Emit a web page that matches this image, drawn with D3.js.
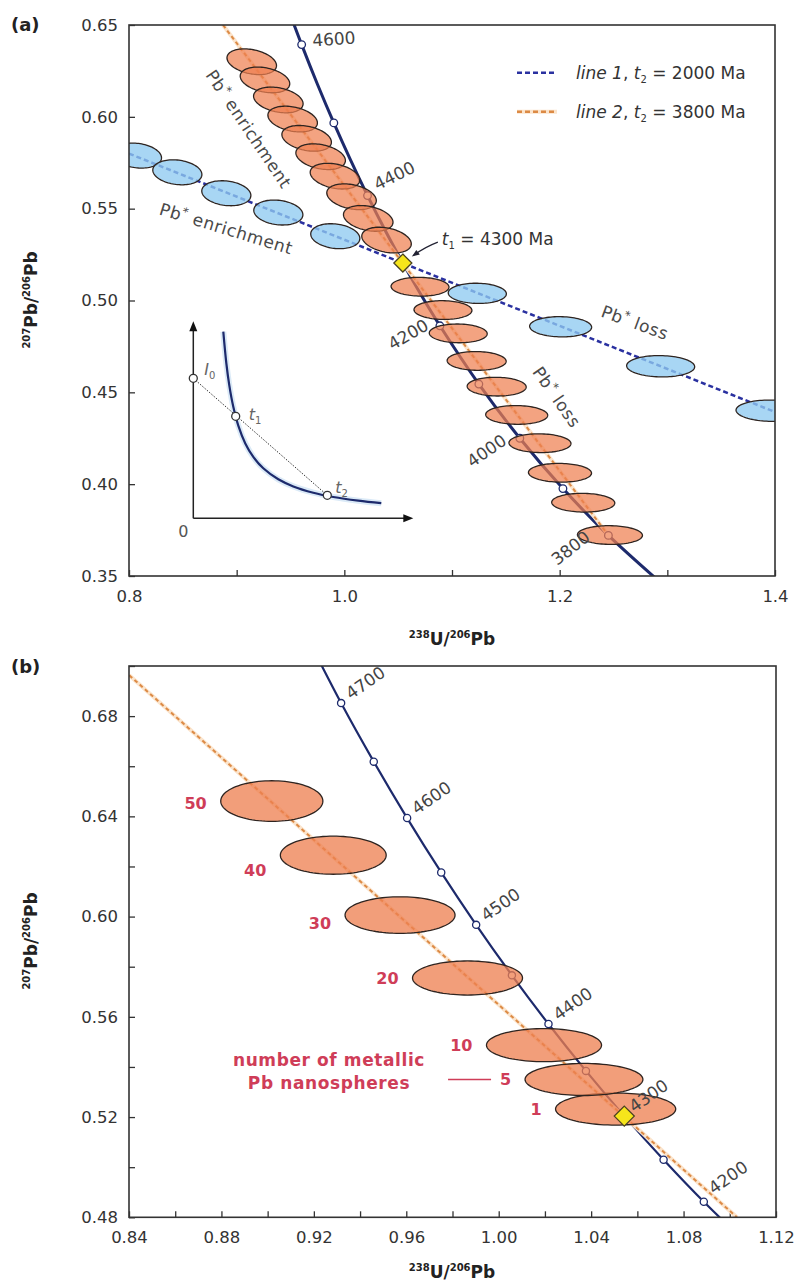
<!DOCTYPE html>
<html><head><meta charset="utf-8">
<script src="https://cdn.jsdelivr.net/npm/d3@7"></script>
<style>
body{margin:0;background:#fff;}
svg{display:block;font-family:"DejaVu Sans",sans-serif;}
</style></head><body>
<svg id="fig" width="794" height="1285"></svg>
<script>
// ---------- Concordia (Tera-Wasserburg), ages in Ma ----------
const concAge = [3700,3800,3900,4000,4100,4200,4250,4300,4350,4400,4450,4500,4550,4600,4650,4700,4800];
const concU   = [1.28984,1.24526,1.20304,1.16298,1.12494,1.08876,1.07135,1.05434,1.03775,1.02154,1.00571,0.99024,0.97512,0.96036,0.94592,0.93180,0.90449];
const concPb  = [0.34840,0.37210,0.39759,0.42501,0.45450,0.48623,0.50299,0.52038,0.53842,0.55714,0.57655,0.59670,0.61762,0.63932,0.66183,0.68520,0.73464];

// age marks on the concordia
const markAgesA  = [3800,3900,4000,4100,4200,4400,4500,4600];
const labelAgesA = [4600,4400,4200,4000,3800];
const markAgesB  = [4200,4250,4350,4400,4450,4500,4550,4600,4650,4700];
const labelAgesB = [4200,4300,4400,4500,4600,4700];
const t1Age = 4300;

// ---------- Discordia lines (end points) ----------
const line1AU  = [0.80, 1.40];      const line1APb = [0.5800, 0.4393];   // t2 = 2000 Ma
const line2AU  = [0.8873, 1.2453];  const line2APb = [0.6500, 0.3721];   // t2 = 3800 Ma
const line2BU  = [0.8401, 1.1031];  const line2BPb = [0.6963, 0.4800];

// ---------- Panel (a) analyses along line 1 ----------
const blueU   = [0.8074,0.8449,0.8904,0.9387,0.9916,1.1235,1.2009,1.2938,1.3963];
const bluePb  = [0.5789,0.5698,0.5584,0.5479,0.5350,0.5039,0.4857,0.4642,0.4400];
const blueSU  = [0.0228,0.0228,0.0228,0.0228,0.0228,0.0270,0.0288,0.0316,0.0325];
const blueSPb = [0.0068,0.0068,0.0068,0.0068,0.0068,0.0055,0.0055,0.0058,0.0058];
const blueRho = [-0.18,-0.18,-0.18,-0.18,-0.18,-0.05,-0.05,-0.05,-0.05];

// ---------- Panel (a) analyses along line 2 ----------
const orangeU   = [0.9140,0.9263,0.9387,0.9520,0.9650,0.9780,0.9913,1.0067,1.0222,1.0392,
                   1.0703,1.0916,1.1058,1.1229,1.1415,1.1601,1.1817,1.2003,1.2219,1.2467];
const orangePb  = [0.6300,0.6201,0.6092,0.5988,0.5883,0.5783,0.5677,0.5565,0.5447,0.5329,
                   0.5075,0.4948,0.4821,0.4671,0.4531,0.4377,0.4223,0.4062,0.3899,0.3723];
const orangeSU  = [0.0230,0.0230,0.0230,0.0230,0.0230,0.0230,0.0230,0.0230,0.0230,0.0230,
                   0.0269,0.0269,0.0269,0.0274,0.0274,0.0288,0.0288,0.0293,0.0293,0.0302];
const orangeSPb = [0.0070,0.0070,0.0070,0.0070,0.0070,0.0070,0.0070,0.0070,0.0070,0.0070,
                   0.0051,0.0051,0.0051,0.0051,0.0051,0.0051,0.0051,0.0051,0.0051,0.0051];
const orangeRho = [-0.30,-0.30,-0.30,-0.30,-0.30,-0.30,-0.30,-0.30,-0.30,-0.30,
                   -0.04,-0.04,-0.04,-0.04,-0.04,-0.04,-0.04,-0.04,-0.04,-0.04];

// ---------- Panel (b) metallic Pb nanospheres ----------
const nanoCount = [1,5,10,20,30,40,50];
const nanoU   = [1.0506,1.0369,1.0196,0.9865,0.9573,0.9284,0.9018];
const nanoPb  = [0.5232,0.5350,0.5487,0.5755,0.6006,0.6245,0.6461];
const nanoSU  = [0.0260,0.0255,0.0249,0.0238,0.0238,0.0229,0.0221];
const nanoSPb = [0.0064,0.0064,0.0066,0.0068,0.0073,0.0076,0.0081];

// ---------- Tick values ----------
const xTicksA = [0.8,0.9,1.0,1.1,1.2,1.3,1.4];
const yTicksA = [0.35,0.40,0.45,0.50,0.55,0.60,0.65];
const xTicksB = [0.84,0.86,0.88,0.90,0.92,0.94,0.96,0.98,1.00,1.02,1.04,1.06,1.08,1.10,1.12];
const yTicksB = [0.48,0.50,0.52,0.54,0.56,0.58,0.60,0.62,0.64,0.66,0.68,0.70];

// ---------- Inset sketch (schematic units) ----------
const sketchX = [30,33,36,40,45,52,60,70,85,100,120,140,165,188];
const sketchY = [186.6,155.3,132.9,111.5,92.7,74.9,61.4,50.0,39.0,31.9,25.6,21.3,17.6,15.1];
const sketchI0 = [0,140], sketchT1 = [42.4,102], sketchT2 = [134,23];

// =====================================================================
const svg = d3.select("#fig");
const defs = svg.append("defs");
const conc = concAge.map((a,i)=>({age:a,u:concU[i],pb:concPb[i]})).sort((p,q)=>q.u-p.u);
const concAt = a => { const i = concAge.indexOf(a); return [concU[i], concPb[i]]; };

const NAVY = "#1d2a6c", BLUE_DASH = "#2a31a0", ORANGE_DASH = "#dc8a45", HALO = "#fbe4cc";
const ORANGE_FILL = "#ee8050", BLUE_FILL = "#8fcaf1", EDGE = "#2e2420", RED = "#cf3d58";

function rich(g, x, y, parts){
  const t = g.append("text").attr("x",x).attr("y",y);
  let shift = 0;
  parts.forEach(p=>{
    const s = t.append("tspan").text(p.t);
    const target = p.sub ? p.sub : (p.sup ? -p.sup : 0);
    if (target !== shift){ s.attr("dy", target - shift); shift = target; }
    if (p.size) s.attr("font-size", p.size);
    if (p.italic) s.attr("font-style","italic");
    if (p.bold) s.attr("font-weight","bold");
  });
  return t;
}

function ellipsePath(x, y, cx, cy, sx, sy, rho){
  const r = Math.sqrt(1 - rho*rho);
  const pts = d3.range(0, 96).map(i=>{
    const a = i/96*2*Math.PI;
    return [x(cx + sx*Math.cos(a)), y(cy + sy*(rho*Math.cos(a) + r*Math.sin(a)))];
  });
  return d3.line()(pts) + "Z";
}

function panel(box, xDom, yDom, xt, yt, fx, fy, id){
  const x = d3.scaleLinear(xDom, [box.x0, box.x1]);
  const y = d3.scaleLinear(yDom, [box.y1, box.y0]);
  defs.append("clipPath").attr("id",id).append("rect")
    .attr("x",box.x0).attr("y",box.y0).attr("width",box.x1-box.x0).attr("height",box.y1-box.y0);
  const g = svg.append("g");
  const ax = g.append("g").attr("transform",`translate(0,${box.y1})`)
    .call(d3.axisBottom(x).tickValues(xt).tickFormat(fx).tickSizeInner(-6).tickSizeOuter(0).tickPadding(14));
  const ay = g.append("g").attr("transform",`translate(${box.x0},0)`)
    .call(d3.axisLeft(y).tickValues(yt).tickFormat(fy).tickSizeInner(-6).tickSizeOuter(0).tickPadding(11));
  [ax, ay].forEach(a=>{
    a.select(".domain").remove();
    a.selectAll("text").attr("font-size",16.5).attr("fill","#333").attr("font-family","DejaVu Sans");
    a.selectAll("line").attr("stroke","#333").attr("stroke-width",1.3);
  });
  const plot = g.append("g").attr("clip-path",`url(#${id})`);
  return {x, y, g, plot, box};
}

function drawFrame(P){
  P.g.append("rect").attr("x",P.box.x0).attr("y",P.box.y0)
    .attr("width",P.box.x1-P.box.x0).attr("height",P.box.y1-P.box.y0)
    .attr("fill","none").attr("stroke","#333").attr("stroke-width",1.6);
}

function concordia(P, w){
  P.plot.append("path").datum(conc)
    .attr("d", d3.line().x(d=>P.x(d.u)).y(d=>P.y(d.pb)).curve(d3.curveCatmullRom))
    .attr("fill","none").attr("stroke",NAVY).attr("stroke-width",w);
}
function orangeLine(P, us, pbs){
  const d = d3.line()(us.map((u,i)=>[P.x(u), P.y(pbs[i])]));
  P.plot.append("path").attr("d",d).attr("stroke",HALO).attr("stroke-width",4).attr("fill","none");
  P.plot.append("path").attr("d",d).attr("stroke",ORANGE_DASH).attr("stroke-width",2)
    .attr("stroke-dasharray","4,3").attr("fill","none");
}
function markers(P, ages, r){
  ages.forEach(a=>{
    const [u,pb] = concAt(a);
    P.plot.append("circle").attr("cx",P.x(u)).attr("cy",P.y(pb)).attr("r",r)
      .attr("fill","#fff").attr("stroke",NAVY).attr("stroke-width",1.3);
  });
}
function ageLabels(P, ages, layout){
  ages.forEach(a=>{
    const [u,pb] = concAt(a);
    const L = layout[a];
    const px = P.x(u)+L.dx, py = P.y(pb)+L.dy;
    P.g.append("text").attr("x",px).attr("y",py).attr("text-anchor",L.anchor)
      .attr("transform",`rotate(${L.rot},${px},${py})`)
      .attr("font-size",17).attr("fill","#444").text(a);
  });
}
function diamond(P, h){
  const [u,pb] = concAt(t1Age);
  const cx = P.x(u), cy = P.y(pb);
  P.g.append("path").attr("d",`M${cx},${cy-h}L${cx+h},${cy}L${cx},${cy+h}L${cx-h},${cy}Z`)
    .attr("fill","#f6e51b").attr("stroke","#4a4220").attr("stroke-width",1.3);
  return [cx, cy];
}

// ========================= Panel (a) =========================
const PA = panel({x0:129,x1:775,y0:25,y1:576},[0.8,1.4],[0.35,0.65],xTicksA,yTicksA,
  v=> Math.round(v*10)%2===0 ? d3.format(".1f")(v) : "", d3.format(".2f"), "clipA");

concordia(PA, 3);
// line 1 (blue, dashed)
PA.plot.append("path").attr("d", d3.line()(line1AU.map((u,i)=>[PA.x(u),PA.y(line1APb[i])])))
  .attr("stroke",BLUE_DASH).attr("stroke-width",2.5).attr("stroke-dasharray","5,3").attr("fill","none");
orangeLine(PA, line2AU, line2APb);
markers(PA, markAgesA, 3.8);
ageLabels(PA, labelAgesA, {
  4600:{dx:11,dy:2,rot:-4,anchor:"start"},
  4400:{dx:10,dy:-5,rot:-26,anchor:"start"},
  4200:{dx:-10,dy:3,rot:-30,anchor:"end"},
  4000:{dx:-12,dy:5,rot:-35,anchor:"end"},
  3800:{dx:-17,dy:4,rot:-38,anchor:"end"}
});

// analyses
blueU.forEach((u,i)=>{
  PA.plot.append("path").attr("d",ellipsePath(PA.x,PA.y,u,bluePb[i],blueSU[i],blueSPb[i],blueRho[i]))
    .attr("fill",BLUE_FILL).attr("fill-opacity",0.78).attr("stroke",EDGE).attr("stroke-width",1.3);
});
orangeU.forEach((u,i)=>{
  PA.plot.append("path").attr("d",ellipsePath(PA.x,PA.y,u,orangePb[i],orangeSU[i],orangeSPb[i],orangeRho[i]))
    .attr("fill",ORANGE_FILL).attr("fill-opacity",0.72).attr("stroke",EDGE).attr("stroke-width",1.3);
});
const [dAx, dAy] = diamond(PA, 9);

// annotation texts
function pbLabel(P, u, pb, rot, word){
  const px = P.x(u), py = P.y(pb);
  rich(P.g, px, py, [{t:"Pb"},{t:"*",sup:6,size:12},{t:" "+word}])
    .attr("transform",`rotate(${rot},${px},${py})`).attr("font-size",17).attr("fill","#4a4a4a")
    .attr("letter-spacing",0.6);
}
pbLabel(PA, 0.8706, 0.6228, 56, "enrichment");
pbLabel(PA, 0.8272, 0.5470, 17, "enrichment");
pbLabel(PA, 1.2374, 0.4914, 20, "loss");
pbLabel(PA, 1.1740, 0.4611, 55, "loss");

// t1 annotation with arrow
rich(PA.g, dAx+39, dAy-18, [{t:"t",italic:true},{t:"1",sub:4,size:10},{t:" = 4300 Ma"}])
  .attr("font-size",17).attr("fill","#333");
PA.g.append("path").attr("d",`M${dAx+35},${dAy-21} Q${dAx+22},${dAy-16} ${dAx+11},${dAy-8}`)
  .attr("fill","none").attr("stroke","#223").attr("stroke-width",1.2);
PA.g.append("path").attr("d",`M${dAx+9},${dAy-6.5} L${dAx+17},${dAy-8.5} L${dAx+13.5},${dAy-13}Z`)
  .attr("fill","#223");

// legend
const legend = PA.g.append("g");
[[72.7,"1","2000",BLUE_DASH,false],[111.7,"2","3800",ORANGE_DASH,true]].forEach(([ly,n,age,col,halo])=>{
  if (halo) legend.append("line").attr("x1",517).attr("x2",557).attr("y1",ly).attr("y2",ly)
    .attr("stroke",HALO).attr("stroke-width",4);
  legend.append("line").attr("x1",517).attr("x2",557).attr("y1",ly).attr("y2",ly)
    .attr("stroke",col).attr("stroke-width",2.5).attr("stroke-dasharray","5,3");
  rich(legend, 576, ly+6, [{t:"line "+n,italic:true},{t:", "},{t:"t",italic:true},{t:"2",sub:4,size:10},{t:" = "+age+" Ma"}])
    .attr("font-size",17).attr("fill","#333");
});

// inset sketch
const xi = d3.scaleLinear([0,220],[193.3,413.3]);
const yi = d3.scaleLinear([0,197],[518.3,321.3]);
const inset = PA.g.append("g");
inset.append("line").attr("x1",xi(0)).attr("y1",yi(0)).attr("x2",xi(212)).attr("y2",yi(0)).attr("stroke","#222").attr("stroke-width",1.5);
inset.append("line").attr("x1",xi(0)).attr("y1",yi(0)).attr("x2",xi(0)).attr("y2",yi(189)).attr("stroke","#222").attr("stroke-width",1.5);
inset.append("path").attr("d",`M${xi(220)},${yi(0)}L${xi(220)-10},${yi(0)-4}L${xi(220)-10},${yi(0)+4}Z`).attr("fill","#111");
inset.append("path").attr("d",`M${xi(0)},${yi(197)}L${xi(0)-4},${yi(197)+10}L${xi(0)+4},${yi(197)+10}Z`).attr("fill","#111");
const sk = d3.line().curve(d3.curveCatmullRom);
const skPts = sketchX.map((v,i)=>[xi(v), yi(sketchY[i])]);
inset.append("path").attr("d",sk(skPts)).attr("fill","none").attr("stroke","#dbeaf7").attr("stroke-width",6);
inset.append("path").attr("d",sk(skPts)).attr("fill","none").attr("stroke",NAVY).attr("stroke-width",2.2);
inset.append("line").attr("x1",xi(sketchI0[0])).attr("y1",yi(sketchI0[1])).attr("x2",xi(sketchT2[0])).attr("y2",yi(sketchT2[1]))
  .attr("stroke","#333").attr("stroke-width",1).attr("stroke-dasharray","1.5,1.5");
[sketchI0, sketchT1, sketchT2].forEach(p=>{
  inset.append("circle").attr("cx",xi(p[0])).attr("cy",yi(p[1])).attr("r",4)
    .attr("fill","#fff").attr("stroke","#333").attr("stroke-width",1.3);
});
rich(inset, xi(sketchI0[0])+11, yi(sketchI0[1])-3, [{t:"I",italic:true},{t:"0",sub:4,size:10}]).attr("font-size",16).attr("fill","#666");
rich(inset, xi(sketchT1[0])+13, yi(sketchT1[1])+4, [{t:"t",italic:true},{t:"1",sub:4,size:10}]).attr("font-size",16).attr("fill","#666");
rich(inset, xi(sketchT2[0])+8, yi(sketchT2[1])-2, [{t:"t",italic:true},{t:"2",sub:4,size:10}]).attr("font-size",16).attr("fill","#666");
inset.append("text").attr("x",xi(0)-10).attr("y",yi(0)+19).attr("text-anchor","middle")
  .attr("font-size",16).attr("fill","#555").text("0");

drawFrame(PA);

// ========================= Panel (b) =========================
const PB = panel({x0:129,x1:776,y0:666,y1:1217.3},[0.84,1.12],[0.48,0.70],xTicksB,yTicksB,
  v=> Math.round(v*100)%4===0 ? d3.format(".2f")(v) : "",
  v=> Math.round(v*100)%4===0 ? d3.format(".2f")(v) : "", "clipB");

concordia(PB, 2.2);
orangeLine(PB, line2BU, line2BPb);
markers(PB, markAgesB, 3.6);
const bLay = {};
labelAgesB.forEach(a=> bLay[a] = {dx:10,dy:-3,rot:-35,anchor:"start"});
bLay[4200].dy = -7;
ageLabels(PB, labelAgesB, bLay);

const countDy = {1:6, 5:6, 10:6, 20:6, 30:14, 40:21, 50:8};
nanoU.forEach((u,i)=>{
  PB.plot.append("path").attr("d",ellipsePath(PB.x,PB.y,u,nanoPb[i],nanoSU[i],nanoSPb[i],0))
    .attr("fill",ORANGE_FILL).attr("fill-opacity",0.76).attr("stroke",EDGE).attr("stroke-width",1.3);
  const lx = PB.x(u-nanoSU[i]) - 14, ly = PB.y(nanoPb[i]) + countDy[nanoCount[i]];
  PB.g.append("text").attr("x",lx).attr("y",ly).attr("text-anchor","end")
    .attr("font-size",16).attr("font-weight","bold").attr("fill",RED).text(nanoCount[i]);
  if (nanoCount[i] === 5){
    PB.g.append("line").attr("x1",lx-63).attr("x2",lx-20).attr("y1",ly-6).attr("y2",ly-6)
      .attr("stroke",RED).attr("stroke-width",1.5);
  }
});
diamond(PB, 10);

PB.g.append("text").attr("x",329).attr("y",1066).attr("text-anchor","middle").attr("font-size",17)
  .attr("font-weight","bold").attr("fill",RED).attr("letter-spacing",0.6).text("number of metallic");
PB.g.append("text").attr("x",329).attr("y",1089).attr("text-anchor","middle").attr("font-size",17)
  .attr("font-weight","bold").attr("fill",RED).attr("letter-spacing",0.6).text("Pb nanospheres");

drawFrame(PB);

// ========================= Titles =========================
function xTitle(cx, by){
  rich(svg, cx, by, [{t:"238",sup:7,size:10},{t:"U/"},{t:"206",sup:7,size:10},{t:"Pb"}])
    .attr("text-anchor","middle").attr("font-size",17).attr("font-weight","bold").attr("fill","#222");
}
function yTitle(bx, cy){
  rich(svg, bx, cy, [{t:"207",sup:7,size:10},{t:"Pb/"},{t:"206",sup:7,size:10},{t:"Pb"}])
    .attr("text-anchor","middle").attr("font-size",17).attr("font-weight","bold").attr("fill","#222")
    .attr("transform",`rotate(-90,${bx},${cy})`);
}
xTitle(452, 645);
xTitle(452, 1278);
yTitle(37, 300);
yTitle(37, 941);
svg.append("text").attr("x",11).attr("y",31).attr("font-size",18).attr("font-weight","bold").attr("fill","#222").text("(a)");
svg.append("text").attr("x",11).attr("y",673).attr("font-size",18).attr("font-weight","bold").attr("fill","#222").text("(b)");
</script>
</body></html>
